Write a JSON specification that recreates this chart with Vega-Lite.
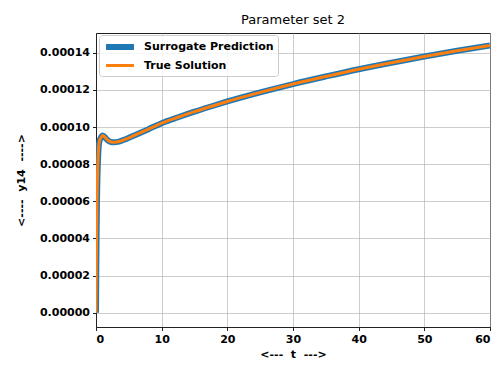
{
  "$schema": "https://vega.github.io/schema/vega-lite/v6.json",
  "width": 394,
  "height": 294,
  "autosize": {"type": "none"},
  "padding": {"left": 96, "top": 33, "right": 8, "bottom": 48},
  "background": "white",
  "config": {
    "font": "DejaVu Sans",
    "view": {"stroke": "#222222", "strokeWidth": 1},
    "axis": {
      "labelFont": "DejaVu Sans",
      "labelFontWeight": "bold",
      "labelFontSize": 11,
      "labelColor": "#000000",
      "titleFont": "DejaVu Sans",
      "titleFontWeight": "bold",
      "titleFontSize": 11,
      "titleColor": "#000000",
      "domainColor": "#222222",
      "tickColor": "#222222",
      "tickSize": 3.5,
      "gridColor": "#b0b0b0",
      "gridOpacity": 0.8,
      "gridWidth": 0.8
    }
  },
  "title": {
    "text": "Parameter set 2",
    "fontSize": 13,
    "fontWeight": "normal",
    "font": "DejaVu Sans",
    "color": "#000000",
    "anchor": "middle",
    "offset": 6
  },
  "data": {
    "values": [
      {"t": 0, "surrogate": 0.0, "truth": 0.0},
      {"t": 0.05, "surrogate": 0.000025, "truth": 0.000025},
      {"t": 0.1, "surrogate": 0.000045, "truth": 0.000045},
      {"t": 0.15, "surrogate": 0.00006, "truth": 0.00006},
      {"t": 0.2, "surrogate": 0.00007, "truth": 0.00007},
      {"t": 0.3, "surrogate": 0.000082, "truth": 0.000082},
      {"t": 0.4, "surrogate": 0.000089, "truth": 0.000089},
      {"t": 0.5, "surrogate": 0.000092, "truth": 0.000092},
      {"t": 0.7, "surrogate": 0.000094, "truth": 0.000094},
      {"t": 1.0, "surrogate": 0.0000955, "truth": 0.0000955},
      {"t": 1.3, "surrogate": 0.0000948, "truth": 0.0000948},
      {"t": 1.7, "surrogate": 0.0000932, "truth": 0.0000932},
      {"t": 2.2, "surrogate": 0.0000921, "truth": 0.0000921},
      {"t": 2.8, "surrogate": 0.0000918, "truth": 0.0000918},
      {"t": 3.5, "surrogate": 0.0000922, "truth": 0.0000922},
      {"t": 4.5, "surrogate": 0.0000935, "truth": 0.0000935},
      {"t": 6, "surrogate": 0.0000958, "truth": 0.0000958},
      {"t": 8, "surrogate": 0.0000989, "truth": 0.0000989},
      {"t": 10, "surrogate": 0.0001021, "truth": 0.0001021},
      {"t": 12.5, "surrogate": 0.0001053, "truth": 0.0001053},
      {"t": 15, "surrogate": 0.0001083, "truth": 0.0001083},
      {"t": 17.5, "surrogate": 0.0001111, "truth": 0.0001111},
      {"t": 20, "surrogate": 0.0001138, "truth": 0.0001138},
      {"t": 25, "surrogate": 0.0001187, "truth": 0.0001187},
      {"t": 30, "surrogate": 0.0001232, "truth": 0.0001232},
      {"t": 35, "surrogate": 0.0001273, "truth": 0.0001273},
      {"t": 40, "surrogate": 0.0001312, "truth": 0.0001312},
      {"t": 45, "surrogate": 0.0001347, "truth": 0.0001347},
      {"t": 50, "surrogate": 0.000138, "truth": 0.000138},
      {"t": 55, "surrogate": 0.0001411, "truth": 0.0001411},
      {"t": 60, "surrogate": 0.000144, "truth": 0.000144}
    ]
  },
  "transform": [
    {"fold": ["surrogate", "truth"], "as": ["key", "y14"]},
    {"lookup": "key", "from": {"data": {"values": [
      {"key": "surrogate", "series": "Surrogate Prediction"},
      {"key": "truth", "series": "True Solution"}
    ]}, "key": "key", "fields": ["series"]}}
  ],
  "mark": {"type": "line", "interpolate": "monotone", "clip": true},
  "encoding": {
    "x": {
      "field": "t",
      "type": "quantitative",
      "scale": {"domain": [0, 60], "nice": false, "zero": false},
      "axis": {"values": [0, 10, 20, 30, 40, 50, 60], "title": "<---\u00a0\u00a0t\u00a0\u00a0--->", "titlePadding": 4, "labelPadding": 3}
    },
    "y": {
      "field": "y14",
      "type": "quantitative",
      "scale": {"domain": [-0.0000077, 0.0001507], "nice": false, "zero": false},
      "axis": {"values": [0, 0.00002, 0.00004, 0.00006, 0.00008, 0.0001, 0.00012, 0.00014], "format": ".5f", "title": "<----\u00a0\u00a0y14\u00a0\u00a0---->", "titlePadding": 13, "labelPadding": 3}
    },
    "color": {
      "field": "series",
      "type": "nominal",
      "scale": {"domain": ["Surrogate Prediction", "True Solution"], "range": ["#1f77b4", "#ff7f0e"]},
      "legend": {
        "title": null,
        "orient": "none",
        "legendX": 3,
        "legendY": 2,
        "symbolType": "M-1,0H4.6",
        "symbolSize": 100,
        "labelFontWeight": "bold",
        "labelFontSize": 11,
        "labelColor": "#000000",
        "labelFont": "DejaVu Sans",
        "labelOffset": 25,
        "fillColor": "rgba(255,255,255,0.8)",
        "strokeColor": "#cccccc",
        "cornerRadius": 3,
        "padding": 4,
        "rowPadding": -4
      }
    },
    "strokeWidth": {
      "field": "series",
      "type": "nominal",
      "scale": {"domain": ["Surrogate Prediction", "True Solution"], "range": [6, 3]},
      "legend": {"title": null}
    }
  }
}
